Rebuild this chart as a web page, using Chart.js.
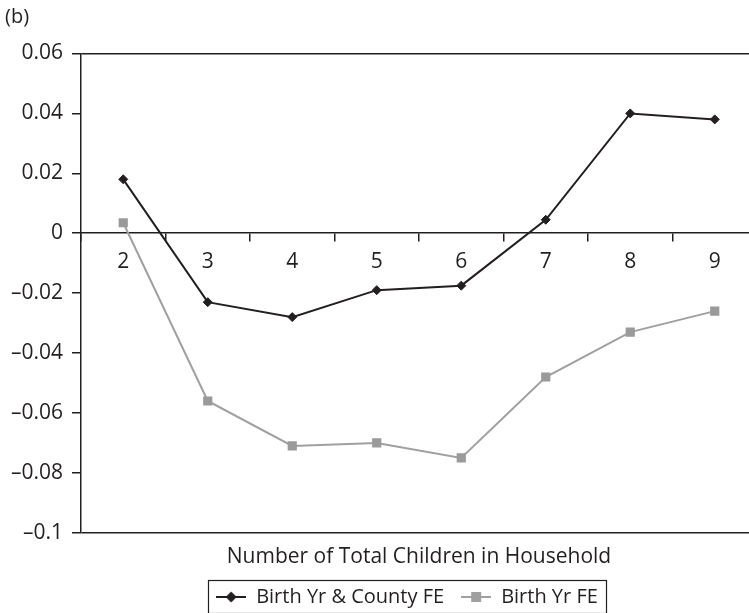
<!DOCTYPE html>
<html>
<head>
<meta charset="utf-8">
<script src="https://cdn.jsdelivr.net/npm/chart.js@4.4.1/dist/chart.umd.min.js"></script>
<style>
    /* the canvas is a little wider than the window: the plot runs off the right edge as in the original */
    html, body { margin: 0; padding: 0; background: #ffffff; overflow: hidden; }
</style>
</head>
<body>
<canvas id="chart" width="757" height="613"></canvas>
<script>
// ---------------------------------------------------------------------------
// Data
// ---------------------------------------------------------------------------

const categories = ['2', '3', '4', '5', '6', '7', '8', '9'];
const countyFE = [0.018, -0.023, -0.028, -0.019, -0.0175, 0.0045, 0.040, 0.038];
const birthYrFE = [0.0035, -0.056, -0.071, -0.070, -0.075, -0.048, -0.033, -0.026];
const seriesNames = ['Birth Yr & County FE', 'Birth Yr FE'];
const yRange = [-0.1, 0.06];
const yStep = 0.02;
const xTitle = 'Number of Total Children in Household';
const panelLabel = '(b)';

// ---------------------------------------------------------------------------
// Theme
// ---------------------------------------------------------------------------

const INK = '#231f20';
const GREY = '#a0a0a0';
const FONT = "'Open Sans', 'Noto Sans', sans-serif";
const FONT_SIZE = 21;
const LEGEND_SPAN = 652;   // width the legend is centred in (from plot left)

Chart.defaults.font.family = FONT;
Chart.defaults.color = INK;

// small line + marker swatch used as the legend point style
function legendSwatch(color, shape) {
    const c = document.createElement('canvas');
    c.width = 30;
    c.height = 14;
    const g = c.getContext('2d');
    g.strokeStyle = color;
    g.fillStyle = color;
    g.lineWidth = 2;
    g.beginPath();
    g.moveTo(0, 7);
    g.lineTo(30, 7);
    g.stroke();
    g.beginPath();
    if (shape === 'diamond') {
        g.moveTo(15, 1.5);
        g.lineTo(20.5, 7);
        g.lineTo(15, 12.5);
        g.lineTo(9.5, 7);
        g.closePath();
        g.fill();
    } else {
        g.fillRect(10, 2, 10, 10);
    }
    return c;
}

function fmtTick(v) {
    const n = parseFloat(Number(v).toFixed(2));
    return String(n).replace('-', '\u2013');
}

// legend: narrower box so it sits where the original had it, plus a frame
const legendFrame = {
    id: 'legendFrame',
    afterLayout(chart) {
        const lg = chart.legend;
        if (!lg) return;
        lg.right = lg.left + LEGEND_SPAN;
        lg.width = LEGEND_SPAN;
    },
    afterDraw(chart) {
        const boxes = chart.legend && chart.legend.legendHitBoxes;
        if (!boxes || !boxes.length) return;
        const left = Math.min(...boxes.map(b => b.left)) - 8;
        const right = Math.max(...boxes.map(b => b.left + b.width)) + 8;
        const top = boxes[0].top - 7;
        const bottom = boxes[0].top + boxes[0].height + 6;
        const ctx = chart.ctx;
        ctx.save();
        ctx.strokeStyle = INK;
        ctx.lineWidth = 1.2;
        ctx.strokeRect(Math.round(left) + 0.5, Math.round(top) + 0.5, Math.round(right - left), Math.round(bottom - top));
        ctx.restore();
    }
};

const isEdge = v => Math.abs(v - yRange[0]) < 1e-9 || Math.abs(v - yRange[1]) < 1e-9;

new Chart(document.getElementById('chart'), {
    type: 'line',
    data: {
        labels: categories,
        datasets: [
            {
                label: seriesNames[0],
                data: countyFE,
                borderColor: INK,
                backgroundColor: INK,
                borderWidth: 2,
                pointStyle: 'rectRot',
                pointRadius: 4.5,
                pointBorderWidth: 1,
                tension: 0,
                xAxisID: 'x'
            },
            {
                label: seriesNames[1],
                data: birthYrFE,
                borderColor: GREY,
                backgroundColor: '#9a9a9a',
                borderWidth: 2,
                pointStyle: 'rect',
                pointRadius: 6.5,
                pointBorderWidth: 0,
                tension: 0,
                xAxisID: 'x'
            }
        ]
    },
    options: {
        responsive: false,
        animation: false,
        layout: {
            autoPadding: false,
            padding: { left: 5, right: 0, top: 0, bottom: -4 }
        },
        scales: {
            x: {
                type: 'category',
                position: { y: 0 },
                offset: true,
                grid: {
                    offset: true,
                    drawOnChartArea: false,
                    tickLength: 8,
                    color: INK,
                    lineWidth: 1.5
                },
                border: { color: INK, width: 1.5 },
                ticks: { font: { size: FONT_SIZE }, padding: 8, maxRotation: 0 }
            },
            x2: {
                type: 'category',
                position: 'bottom',
                grid: { display: false, drawTicks: false },
                border: { display: false },
                ticks: { display: false },
                title: {
                    display: true,
                    text: xTitle,
                    font: { size: FONT_SIZE },
                    padding: { top: 12, bottom: 0 }
                }
            },
            y: {
                min: yRange[0],
                max: yRange[1],
                ticks: {
                    stepSize: yStep,
                    font: { size: FONT_SIZE },
                    padding: 9,
                    callback: v => fmtTick(v)
                },
                grid: {
                    color: c => (c.tick && isEdge(c.tick.value)) ? INK : 'rgba(0,0,0,0)',
                    tickColor: INK,
                    tickLength: 9,
                    lineWidth: 1.5
                },
                border: { color: INK, width: 1.5 },
                afterFit: s => { s.width = 76; }
            }
        },
        plugins: {
            title: {
                display: true,
                text: panelLabel,
                align: 'start',
                font: { size: 20, weight: 'normal' },
                padding: { top: 5, bottom: 24.5 }
            },
            legend: {
                position: 'bottom',
                fullSize: false,
                weight: 3000,
                labels: {
                    usePointStyle: true,
                    pointStyleWidth: 30,
                    padding: 17,
                    font: { size: 20 },
                    generateLabels: chart => chart.data.datasets.map((ds, i) => ({
                        text: ds.label,
                        datasetIndex: i,
                        pointStyle: legendSwatch(ds.borderColor, i === 0 ? 'diamond' : 'square'),
                        fontColor: INK,
                        lineWidth: 0,
                        strokeStyle: 'rgba(0,0,0,0)',
                        fillStyle: 'rgba(0,0,0,0)'
                    }))
                }
            },
            tooltip: { enabled: false }
        }
    },
    plugins: [legendFrame]
});
</script>
</body>
</html>
